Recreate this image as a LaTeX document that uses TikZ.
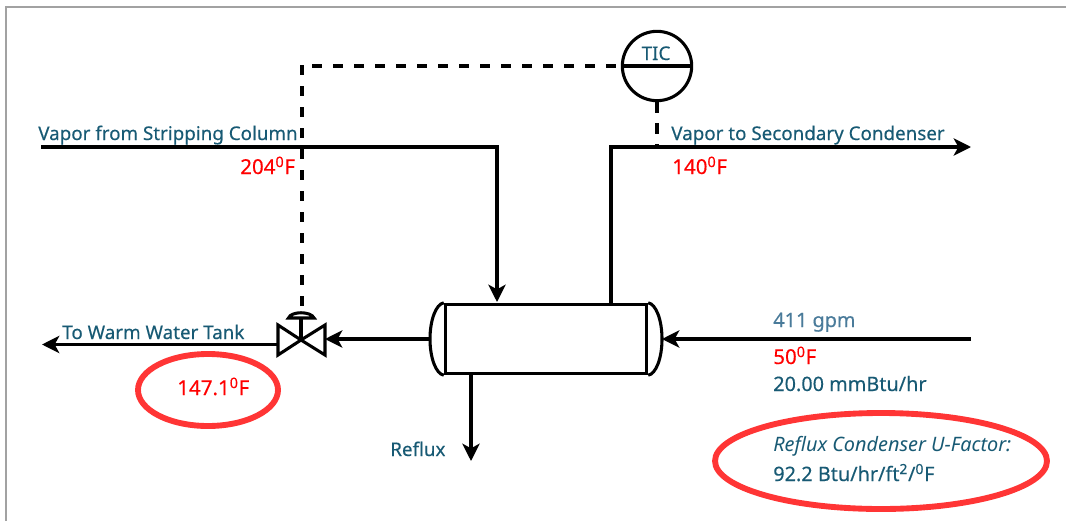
\documentclass[tikz,border=0pt]{standalone}
\usepackage{fontspec}
\setmainfont{Noto Sans}
\newfontfamily\medfont{Noto Sans}[FakeBold=0.3]
\usetikzlibrary{positioning, shapes.geometric, arrows.meta, calc}
\definecolor{labelteal}{HTML}{185A74}
\definecolor{flowblue}{HTML}{4A7B9A}
\definecolor{ringred}{HTML}{FF3535}
\definecolor{framegray}{HTML}{A2A2A2}

\begin{document}
\begin{tikzpicture}[x=0.75pt, y=-0.75pt]
    \tikzset{
        pipe/.style={line width=2.3pt, color=black},
        flow/.style={pipe, -{Stealth[length=13pt, width=13pt, inset=3.5pt]}},
        signal/.style={line width=2.5pt, color=black, dash pattern=on 7.8pt off 7.95pt},
        stream label/.style={font=\medfont\fontsize{14.1}{16}\selectfont, text=labelteal, anchor=base west, inner sep=0pt},
        value label/.style={stream label, font=\medfont\fontsize{14.9}{16}\selectfont},
        temp label/.style={value label, text=red, font=\medfont\fontsize{15.4}{16}\selectfont},
        ring/.style={ellipse, draw=ringred, line width=4.4pt, inner sep=0pt}
    }
    \useasboundingbox (0,0) rectangle (1066,521);

    % frame
    \draw[color=framegray, line width=1.5pt] (6,521) -- (6,7) -- (1066,7);

    % condenser
    \node[draw, line width=2.3pt, minimum width=151pt, minimum height=52pt, inner sep=0pt] (condenser) at (546,339) {};
    \coordinate (capwest) at (430,339);
    \coordinate (capeast) at (662,339);
    \draw[pipe] (condenser.north west) .. controls (436,304) and (430,320) .. (capwest) .. controls (430,358) and (436,374) .. (condenser.south west);
    \draw[pipe] (condenser.north east) .. controls (656,304) and (662,320) .. (capeast) .. controls (662,358) and (656,374) .. (condenser.south east);

    % controller
    \node[circle, draw, line width=2.3pt, fill=white, minimum size=52pt, inner sep=0pt] (tic) at (657,66) {};
    \draw[pipe] (tic.west) -- (tic.east);
    \node[stream label, anchor=base] (ticlabel) at (656,60) {TIC};

    % valve
    \coordinate (valve) at (301,340);
    \coordinate (valvewest) at (278,344.5);
    \coordinate (valveeast) at (325,339);
    \coordinate (dome) at (301,318);
    \draw[pipe, line join=miter] (valve) -- (278,325) -- (278,355) -- cycle;
    \draw[pipe, line join=miter] (valve) -- (325,325) -- (325,355) -- cycle;
    \draw[pipe] (valve) -- (dome);
    \draw[pipe, fill=white] (288.5,318) -- (314,318) .. controls (311,311) and (291,311) .. cycle;

    % signal lines
    \coordinate (signalcorner) at (302,65);
    \coordinate (signalend) at (302,307);
    \coordinate (signalturn) at (312,66);
    \coordinate (sensor) at (657,147);
    \draw[signal] (signalcorner) -- (signalend);
    \draw[signal] (signalturn) -- (tic.west);
    \draw[signal] (tic.south) -- (sensor);

    % vapor lines
    \coordinate (vaporin) at (41,147);
    \coordinate (vaporbend) at (497,147);
    \coordinate (vaportop) at (497,302);
    \coordinate (outtop) at (611,304);
    \coordinate (outbend) at (611,147);
    \coordinate (vaporout) at (971,147);
    \draw[flow] (vaporin) -- (vaporbend) -- (vaportop);
    \draw[flow] (outtop) -- (outbend) -- (vaporout);

    % water lines
    \coordinate (waterin) at (971,339);
    \coordinate (wateroutlet) at (42,344.5);
    \coordinate (refluxtop) at (471,374);
    \coordinate (refluxend) at (471,461);
    \draw[flow] (waterin) -- (capeast);
    \draw[flow] (capwest) -- (valveeast);
    \draw[flow] (valvewest) -- (wateroutlet);
    \draw[flow] (refluxtop) -- (refluxend);

    % rings
    \node[ring, minimum width=105pt, minimum height=54pt] (ringleft) at (208,390) {};
    \node[ring, minimum width=249pt, minimum height=72pt] (ringright) at (881,461) {};

    % labels
    \node[stream label] (vaporfrom) at (38,140) {Vapor from Stripping Column};
    \node[stream label] (vaporto) at (671,140) {Vapor to Secondary Condenser};
    \node[temp label] (tempin) at (240,174) {204\textsuperscript{0}F};
    \node[temp label] (tempout) at (672,174) {140\textsuperscript{0}F};
    \node[stream label] (warmtank) at (62,339) {To Warm Water Tank};
    \node[temp label] (tempwarm) at (177,395) {147.1\textsuperscript{0}F};
    \node[stream label] (refluxlabel) at (390,456) {Reflux};
    \node[value label, text=flowblue] (gpm) at (773,327) {411 gpm};
    \node[temp label] (tempwater) at (773,364) {50\textsuperscript{0}F};
    \node[value label] (duty) at (773,391) {20.00 mmBtu/hr};
    \node[value label, font=\fontsize{14.9}{16}\selectfont\itshape] (ufactorname) at (773,451) {Reflux Condenser U-Factor:};
    \node[value label] (ufactor) at (773,481) {92.2 Btu/hr/ft\textsuperscript{2}/\textsuperscript{0}F};
\end{tikzpicture}
\end{document}
